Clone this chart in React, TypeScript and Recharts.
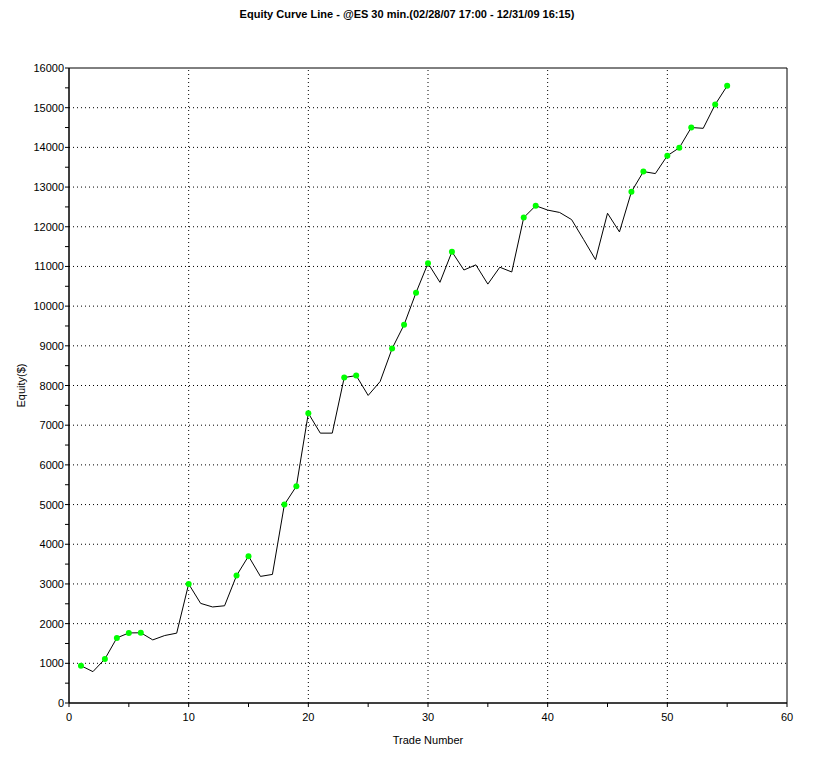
import { Line, LineChart, ReferenceArea, ReferenceLine, XAxis, YAxis } from 'recharts';

const equity = [
  940, 790, 1110, 1640, 1765, 1770, 1590, 1700, 1760, 3000,
  2510, 2420, 2450, 3210, 3700, 3190, 3240, 5000, 5460, 7300,
  6800, 6800, 8200, 8250, 7750, 8100, 8930, 9530, 10340, 11080,
  10600, 11370, 10910, 11040, 10555, 10980, 10860, 12230, 12530, 12420,
  12360, 12180, 11680, 11170, 12340, 11870, 12880, 13390, 13340, 13790,
  13990, 14500, 14480, 15080, 15550,
];

const xTicks = [0, 5, 10, 15, 20, 25, 30, 35, 40, 45, 50, 55, 60];
const yTicks = [
  0, 500, 1000, 1500, 2000, 2500, 3000, 3500, 4000, 4500, 5000, 5500, 6000, 6500, 7000, 7500,
  8000, 8500, 9000, 9500, 10000, 10500, 11000, 11500, 12000, 12500, 13000, 13500, 14000, 14500,
  15000, 15500, 16000,
];
const xGrid = [10, 20, 30, 40, 50];
const yGrid = [1000, 2000, 3000, 4000, 5000, 6000, 7000, 8000, 9000, 10000, 11000, 12000, 13000, 14000, 15000];

const FONT = '"Liberation Sans", Arial, sans-serif';

// green dot on every new equity high
let peak = -Infinity;
const data = equity.map((value, i) => {
  const high = value > peak;
  if (high) peak = value;
  return { trade: i + 1, equity: value, high };
});

const XTick = ({ x, y, payload }: any) => (
  <g>
    <line x1={x} y1={y} x2={x} y2={y + 4} stroke="#000" />
    {payload.value % 10 === 0 && (
      <text x={x} y={y + 18} textAnchor="middle" fontSize={11} fontFamily={FONT} fill="#000">
        {payload.value}
      </text>
    )}
  </g>
);

const YTick = ({ x, y, payload }: any) => (
  <g>
    <line x1={x - 4} y1={y} x2={x} y2={y} stroke="#000" />
    {payload.value % 1000 === 0 && (
      <text x={x - 5} y={y + 4} textAnchor="end" fontSize={11} fontFamily={FONT} fill="#000">
        {payload.value}
      </text>
    )}
  </g>
);

const HighDot = ({ cx, cy, payload, index }: any) =>
  payload.high ? (
    <circle key={index} cx={cx} cy={cy} r={3} fill="#00ff00" stroke="none" />
  ) : (
    <g key={index} />
  );

const YLabel = ({ viewBox }: any) => {
  const cx = viewBox.x + 22;
  const cy = viewBox.y + viewBox.height / 2;
  return (
    <text x={cx} y={cy} transform={`rotate(-90, ${cx}, ${cy})`} textAnchor="middle" dominantBaseline="middle" fontSize={11} fontFamily={FONT} fill="#000">
      Equity($)
    </text>
  );
};

export default function App() {
  return (
    <div style={{ position: 'absolute', left: 0, top: 0, width: 814, height: 761, background: '#fff' }}>
      <div
        style={{
          position: 'absolute',
          top: 8,
          left: 0,
          width: 814,
          textAlign: 'center',
          fontFamily: FONT,
          fontWeight: 'bold',
          fontSize: 11,
          color: '#000',
        }}
      >
        Equity Curve Line - @ES 30 min.(02/28/07 17:00 - 12/31/09 16:15)
      </div>
      <LineChart width={814} height={761} data={data} margin={{ top: 68, right: 27, bottom: 0, left: 0 }}>
        {xGrid.map((v) => (
          <ReferenceLine key={`x${v}`} x={v} stroke="#000" strokeDasharray="1 3" />
        ))}
        {yGrid.map((v) => (
          <ReferenceLine key={`y${v}`} y={v} stroke="#000" strokeDasharray="1 3" />
        ))}
        <ReferenceArea x1={0} x2={60} y1={0} y2={16000} fill="none" stroke="#000" strokeWidth={1} />
        <XAxis
          dataKey="trade"
          type="number"
          domain={[0, 60]}
          ticks={xTicks}
          interval={0}
          height={58}
          tickSize={0}
          tickMargin={0}
          tickLine={false}
          axisLine={{ stroke: '#000' }}
          tick={<XTick />}
          label={{ value: 'Trade Number', position: 'insideBottom', offset: 17, fontSize: 11, fontFamily: FONT, fill: '#000' }}
        />
        <YAxis
          type="number"
          domain={[0, 16000]}
          ticks={yTicks}
          interval={0}
          width={69}
          tickSize={0}
          tickMargin={0}
          tickLine={false}
          axisLine={{ stroke: '#000' }}
          tick={<YTick />}
          label={<YLabel />}
        />
        <Line
          type="linear"
          dataKey="equity"
          stroke="#000"
          strokeWidth={1}
          dot={<HighDot />}
          activeDot={false}
          isAnimationActive={false}
        />
      </LineChart>
    </div>
  );
}
